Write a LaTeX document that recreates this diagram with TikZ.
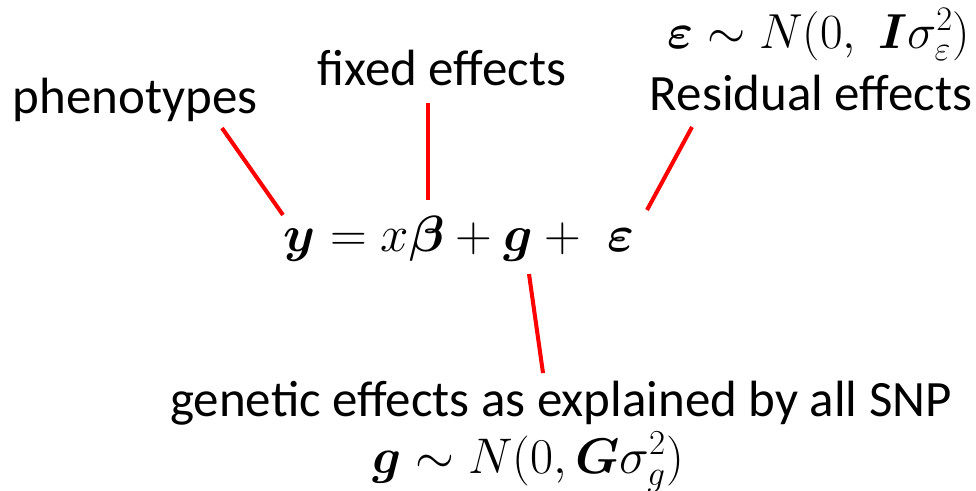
\RequirePackage{fix-cm}
\documentclass[tikz,border=0pt]{standalone}
\usepackage[no-math]{fontspec}
\setmainfont{Carlito}
\usepackage{amsmath}
\usepackage{bm}
\tikzset{
  labeltext/.style={font=\fontsize{29}{34}\selectfont, inner sep=0pt, anchor=base},
  mathtext/.style={font=\fontsize{#1}{34}\selectfont, inner sep=0pt, anchor=base},
  link/.style={red, line width=2.3pt}
}
\begin{document}
\begin{tikzpicture}[x=0.02cm, y=-0.02cm]
    \useasboundingbox (0, 0) rectangle (976, 490);
    % labels
    \node[labeltext] (pheno) at (135, 113) {phenotypes};
    \node[labeltext] (fixed) at (442, 85) {fixed effects};
    \node[mathtext=28] (residdist) at (819, 48) {$\bm{\varepsilon} \sim N(0,\;\bm{I}\sigma_{\varepsilon}^{2})$};
    \node[labeltext] (resid) at (811, 110) {Residual effects};
    \node[labeltext] (genetic) at (561, 416) {genetic effects as explained by all SNP};
    \node[mathtext=28.5] (geneticdist) at (528, 473) {$\bm{g} \sim N(0, \bm{G}\sigma_{g}^{2})$};
    % model
    \node[mathtext=29] (model) at (459, 251) {$\bm{y} = x\bm{\beta} + \bm{g} +\;\bm{\varepsilon}$};
    % connector ends
    \coordinate (pheno-end) at (222, 128);
    \coordinate (y-end) at (283, 215);
    \coordinate (fixed-end) at (428, 103);
    \coordinate (beta-end) at (428, 200);
    \coordinate (resid-end) at (692, 127);
    \coordinate (eps-end) at (647, 210);
    \coordinate (g-end) at (529, 274);
    \coordinate (genetic-end) at (543, 373);
    \draw[link] (pheno-end) -- (y-end);
    \draw[link] (fixed-end) -- (beta-end);
    \draw[link] (resid-end) -- (eps-end);
    \draw[link] (g-end) -- (genetic-end);
\end{tikzpicture}
\end{document}
